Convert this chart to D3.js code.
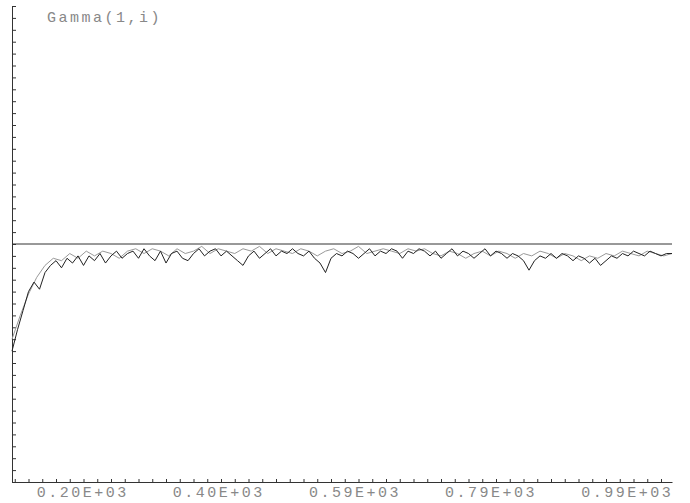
<!DOCTYPE html>
<html>
<head>
<meta charset="utf-8">
<script src="https://cdn.jsdelivr.net/npm/d3@7"></script>
<style>
  body { margin: 0; background: #fff; }
  .axis path, .axis line { stroke: #333; }
  .lbl text { font-family: "Liberation Mono", "DejaVu Sans Mono", monospace; fill: #888; }
</style>
</head>
<body>
<svg id="plot" width="690" height="503"></svg>
<script>
// iteration index runs from 96 to 1056
var title = "Gamma(1,i)";
var tickValues = [198, 396, 594, 792, 990];
var tickLabels = ["0.20E+03", "0.40E+03", "0.59E+03", "0.79E+03", "0.99E+03"];
var trueValue = 1.0;

// dark trace, one value every 8 iterations
var gammaDark = [
  0.55, 0.64, 0.72, 0.80, 0.84, 0.81, 0.88, 0.91, 0.93, 0.90,
  0.94, 0.92, 0.95, 0.91, 0.95, 0.93, 0.96, 0.92, 0.95, 0.97,
  0.94, 0.96, 0.97, 0.94, 0.98, 0.95, 0.93, 0.97, 0.92, 0.96,
  0.97, 0.94, 0.93, 0.96, 0.98, 0.95, 0.97, 0.98, 0.95, 0.97,
  0.95, 0.93, 0.91, 0.95, 0.97, 0.94, 0.96, 0.98, 0.95, 0.97,
  0.96, 0.98, 0.96, 0.95, 0.97, 0.94, 0.92, 0.88, 0.94, 0.96,
  0.95, 0.97, 0.96, 0.94, 0.96, 0.98, 0.95, 0.97, 0.96, 0.98,
  0.97, 0.94, 0.97, 0.96, 0.98, 0.97, 0.95, 0.97, 0.94, 0.96,
  0.98, 0.95, 0.97, 0.96, 0.94, 0.96, 0.98, 0.95, 0.97, 0.96,
  0.94, 0.96, 0.95, 0.93, 0.89, 0.93, 0.95, 0.94, 0.96, 0.94,
  0.96, 0.95, 0.93, 0.95, 0.94, 0.92, 0.94, 0.91, 0.93, 0.95,
  0.94, 0.96, 0.95, 0.97, 0.96, 0.95, 0.97, 0.96, 0.95, 0.96,
  0.96
];

// light trace, one value every 12 iterations
var gammaLight = [
  0.60, 0.70, 0.79, 0.86, 0.91, 0.94, 0.93, 0.96, 0.94, 0.97,
  0.95, 0.97, 0.96, 0.94, 0.97, 0.98, 0.96, 0.98, 0.97, 0.95,
  0.98, 0.96, 0.97, 0.99, 0.96, 0.98, 0.97, 0.96, 0.98, 0.97,
  0.99, 0.96, 0.98, 0.97, 0.96, 0.98, 0.97, 0.95, 0.97, 0.98,
  0.96, 0.97, 0.99, 0.96, 0.97, 0.98, 0.97, 0.96, 0.98, 0.97,
  0.98, 0.96, 0.95, 0.97, 0.96, 0.94, 0.96, 0.97, 0.95, 0.97,
  0.96, 0.94, 0.96, 0.95, 0.97, 0.96, 0.94, 0.96, 0.95, 0.93,
  0.95, 0.94, 0.96, 0.95, 0.97, 0.96, 0.95, 0.97, 0.96, 0.95,
  0.96
];

var svg = d3.select("#plot");

var x = d3.scaleLinear().domain([96, 1056]).range([12, 672]);
var y = d3.scaleLinear().domain([0, 2]).range([482, 6]);

// left axis, ticks pointing into the plot
svg.append("g")
  .attr("class", "axis")
  .attr("transform", "translate(12,0)")
  .call(d3.axisRight(y).tickValues(d3.range(0, 2.001, 0.05)).tickSize(4).tickSizeOuter(0).tickFormat(""));

// bottom axis with small ticks pointing up
svg.append("g")
  .attr("class", "axis")
  .attr("transform", "translate(0,482)")
  .call(d3.axisTop(x).tickValues(d3.range(100, 1057, 20)).tickSize(3).tickSizeOuter(0).tickFormat(""));

// labels under the bottom axis
var lbl = svg.append("g")
  .attr("class", "lbl")
  .attr("transform", "translate(0,482)")
  .call(d3.axisBottom(x).tickValues(tickValues).tickSize(0)
    .tickFormat(function (d, i) { return tickLabels[i]; }));
lbl.select(".domain").remove();
lbl.selectAll("text")
  .attr("dy", "0")
  .attr("y", 15)
  .style("font-size", "15px")
  .style("letter-spacing", "2.5px");

// reference line at the true value
svg.append("line")
  .attr("x1", x(96)).attr("x2", x(1056))
  .attr("y1", y(trueValue)).attr("y2", y(trueValue))
  .attr("stroke", "#333").attr("stroke-width", 1);

var lineLight = d3.line()
  .x(function (d, i) { return x(96 + i * 12); })
  .y(function (d) { return y(d); });

var lineDark = d3.line()
  .x(function (d, i) { return x(96 + i * 8); })
  .y(function (d) { return y(d); });

svg.append("path")
  .datum(gammaLight)
  .attr("fill", "none")
  .attr("stroke", "#999")
  .attr("stroke-width", 1)
  .attr("d", lineLight);

svg.append("path")
  .datum(gammaDark)
  .attr("fill", "none")
  .attr("stroke", "#222")
  .attr("stroke-width", 1)
  .attr("d", lineDark);

svg.append("g")
  .attr("class", "lbl")
  .append("text")
  .attr("x", 47)
  .attr("y", 22)
  .style("font-size", "15px")
  .style("letter-spacing", "2.5px")
  .text(title);
</script>
</body>
</html>
